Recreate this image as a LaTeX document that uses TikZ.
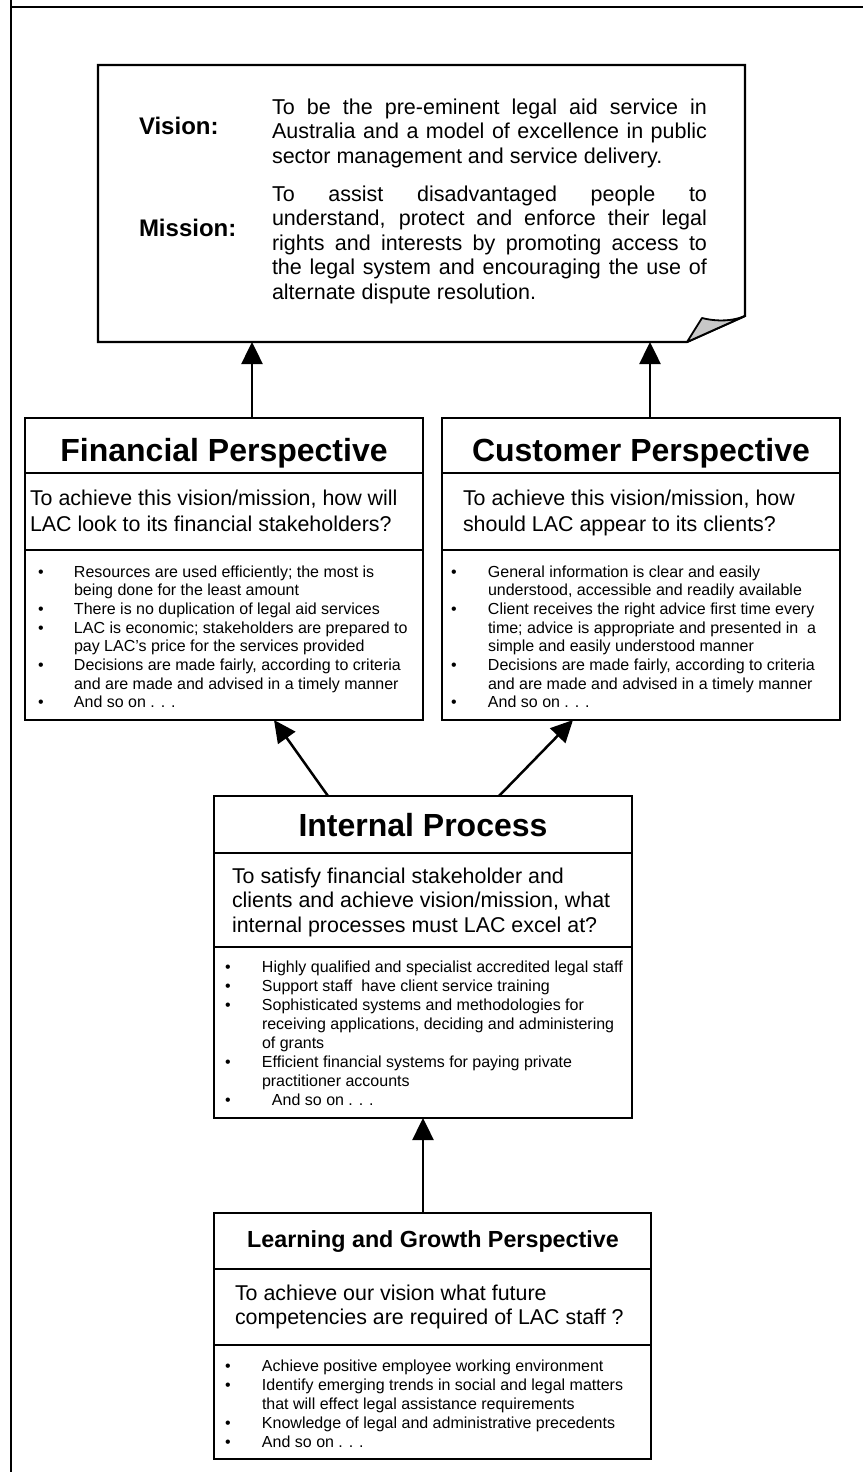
\documentclass[tikz,border=0pt]{standalone}
\usepackage{fontspec}
\setmainfont{Liberation Sans}
\usetikzlibrary{arrows.meta}
\begin{document}
\begin{tikzpicture}[x=1pt,y=-1pt,
  boxfr/.style={draw=black,line width=2.2pt,inner sep=0pt,outer sep=0pt},
  shapeonly/.style={inner sep=0pt,outer sep=0pt},
  lbl/.style={inner sep=0pt,outer sep=0pt,anchor=base west},
  ttl/.style={inner sep=0pt,outer sep=0pt,anchor=base,font=\fontsize{32}{38}\selectfont\bfseries},
  smallttl/.style={inner sep=0pt,outer sep=0pt,anchor=base,font=\fontsize{23.3}{28}\selectfont\bfseries},
  qtxt/.style={lbl,font=\fontsize{21.4}{#1}\selectfont},
  btxt/.style={lbl,font=\fontsize{16}{#1}\selectfont},
  vtxt/.style={lbl,font=\fontsize{21.5}{24.5}\selectfont},
  vlab/.style={lbl,font=\fontsize{24}{28}\selectfont\bfseries},
  divline/.style={line width=2.2pt},
  frameline/.style={line width=2.3pt},
  arr/.style={line width=2.5pt,-{Triangle[width=21pt,length=22pt]}}
]
\useasboundingbox (0,0) rectangle (863,1472);

% outer frame fragments
\draw[frameline] (11,0) -- (11,1472);
\draw[frameline] (10,6.7) -- (863,6.7);

% ---------- Vision / Mission sheet ----------
\node[shapeonly,minimum width=647pt,minimum height=277pt] (vis) at (421.5,203.5) {};
\draw[line width=2.2pt,line join=miter] (vis.north west) -- (vis.north east)
  -- ([yshift=26pt]vis.south east) -- ([xshift=-58pt]vis.south east)
  -- (vis.south west) -- cycle;
\filldraw[fill=black!22,line width=1.8pt,line join=round]
  ([xshift=-58pt]vis.south east) -- ([xshift=-43pt,yshift=24pt]vis.south east)
  .. controls ([xshift=-27pt,yshift=20pt]vis.south east) and ([xshift=-12pt,yshift=21pt]vis.south east)
  .. ([yshift=26pt]vis.south east) -- cycle;

\node[vlab] (vislab) at (139,134) {Vision:};
\node[vtxt] (vistext) at (272,114) {\begin{tabular}[t]{@{}l@{}}
\makebox[435pt][s]{To be the pre-eminent legal aid service in}\\
\makebox[435pt][s]{Australia and a model of excellence in public}\\
sector management and service delivery.
\end{tabular}};
\node[vlab] (mislab) at (139,236) {Mission:};
\node[vtxt] (mistext) at (272,201) {\begin{tabular}[t]{@{}l@{}}
\makebox[435pt][s]{To assist disadvantaged people to}\\
\makebox[435pt][s]{understand, protect and enforce their legal}\\
\makebox[435pt][s]{rights and interests by promoting access to}\\
\makebox[435pt][s]{the legal system and encouraging the use of}\\
alternate dispute resolution.
\end{tabular}};

% ---------- Financial Perspective ----------
\node[boxfr,minimum width=398pt,minimum height=302pt] (fin) at (224,569) {};
\draw[divline] (fin.west |- 0,473) -- (fin.east |- 0,473);
\draw[divline] (fin.west |- 0,550) -- (fin.east |- 0,550);
\node[ttl] (fint) at (224,461) {Financial Perspective};
\node[qtxt=26.6] (finq) at (30,505) {\begin{tabular}[t]{@{}l@{}}
To achieve this vision/mission, how will\\
LAC look to its financial stakeholders?
\end{tabular}};
\node[btxt=18.7] (finb) at (38,577) {\begin{tabular}[t]{@{}p{36pt}@{}l@{}}
\textbullet & Resources are used efficiently; the most is\\
 & being done for the least amount\\
\textbullet & There is no duplication of legal aid services\\
\textbullet & LAC is economic; stakeholders are prepared to\\
 & pay LAC’s price for the services provided\\
\textbullet & Decisions are made fairly, according to criteria\\
 & and are made and advised in a timely manner\\
\textbullet & And so on . . .
\end{tabular}};

% ---------- Customer Perspective ----------
\node[boxfr,minimum width=398pt,minimum height=302pt] (cust) at (641,569) {};
\draw[divline] (cust.west |- 0,473) -- (cust.east |- 0,473);
\draw[divline] (cust.west |- 0,550) -- (cust.east |- 0,550);
\node[ttl] (custt) at (641,461) {Customer Perspective};
\node[qtxt=26.6] (custq) at (463,505) {\begin{tabular}[t]{@{}l@{}}
To achieve this vision/mission, how\\
should LAC appear to its clients?
\end{tabular}};
\node[btxt=18.7] (custb) at (451,577) {\begin{tabular}[t]{@{}p{37pt}@{}l@{}}
\textbullet & General information is clear and easily\\
 & understood, accessible and readily available\\
\textbullet & Client receives the right advice first time every\\
 & time; advice is appropriate and presented in\ \ a\\
 & simple and easily understood manner\\
\textbullet & Decisions are made fairly, according to criteria\\
 & and are made and advised in a timely manner\\
\textbullet & And so on . . .
\end{tabular}};

% ---------- Internal Process ----------
\node[boxfr,minimum width=418pt,minimum height=322pt] (int) at (423,957) {};
\draw[divline] (int.west |- 0,853) -- (int.east |- 0,853);
\draw[divline] (int.west |- 0,947) -- (int.east |- 0,947);
\node[ttl] (intt) at (423,836.5) {Internal Process};
\node[qtxt=24.6] (intq) at (232,883) {\begin{tabular}[t]{@{}l@{}}
To satisfy financial stakeholder and\\
clients and achieve vision/mission, what\\
internal processes must LAC excel at?
\end{tabular}};
\node[btxt=19.1] (intb) at (225,972) {\begin{tabular}[t]{@{}p{37pt}@{}l@{}}
\textbullet & Highly qualified and specialist accredited legal staff\\
\textbullet & Support staff\ \ have client service training\\
\textbullet & Sophisticated systems and methodologies for\\
 & receiving applications, deciding and administering\\
 & of grants\\
\textbullet & Efficient financial systems for paying private\\
 & practitioner accounts\\
\textbullet & \hspace{10pt}And so on . . .
\end{tabular}};

% ---------- Learning and Growth ----------
\node[boxfr,minimum width=437pt,minimum height=246pt] (learn) at (432.5,1336) {};
\draw[divline] (learn.west |- 0,1269) -- (learn.east |- 0,1269);
\draw[divline] (learn.west |- 0,1345) -- (learn.east |- 0,1345);
\node[smallttl] (learnt) at (433,1247) {Learning and Growth Perspective};
\node[qtxt=24.2] (learnq) at (235,1300) {\begin{tabular}[t]{@{}l@{}}
To achieve our vision what future\\
competencies are required of LAC staff ?
\end{tabular}};
\node[btxt=19.1] (learnb) at (225,1371) {\begin{tabular}[t]{@{}p{37pt}@{}l@{}}
\textbullet & Achieve positive employee working environment\\
\textbullet & Identify emerging trends in social and legal matters\\
 & that will effect legal assistance requirements\\
\textbullet & Knowledge of legal and administrative precedents\\
\textbullet & And so on . . .
\end{tabular}};

% ---------- Connectors ----------
\draw[arr] ([xshift=28pt]fin.north) -- ([xshift=28pt]fin.north |- vis.south);
\draw[arr] ([xshift=9pt]cust.north) -- ([xshift=9pt]cust.north |- vis.south);
\draw[arr] ([xshift=-95pt]int.north) -- ([xshift=50pt]fin.south);
\draw[arr] ([xshift=76pt]int.north) -- ([xshift=-68pt]cust.south);
\draw[arr] (learn.north -| int.south) -- (int.south);

\end{tikzpicture}
\end{document}
